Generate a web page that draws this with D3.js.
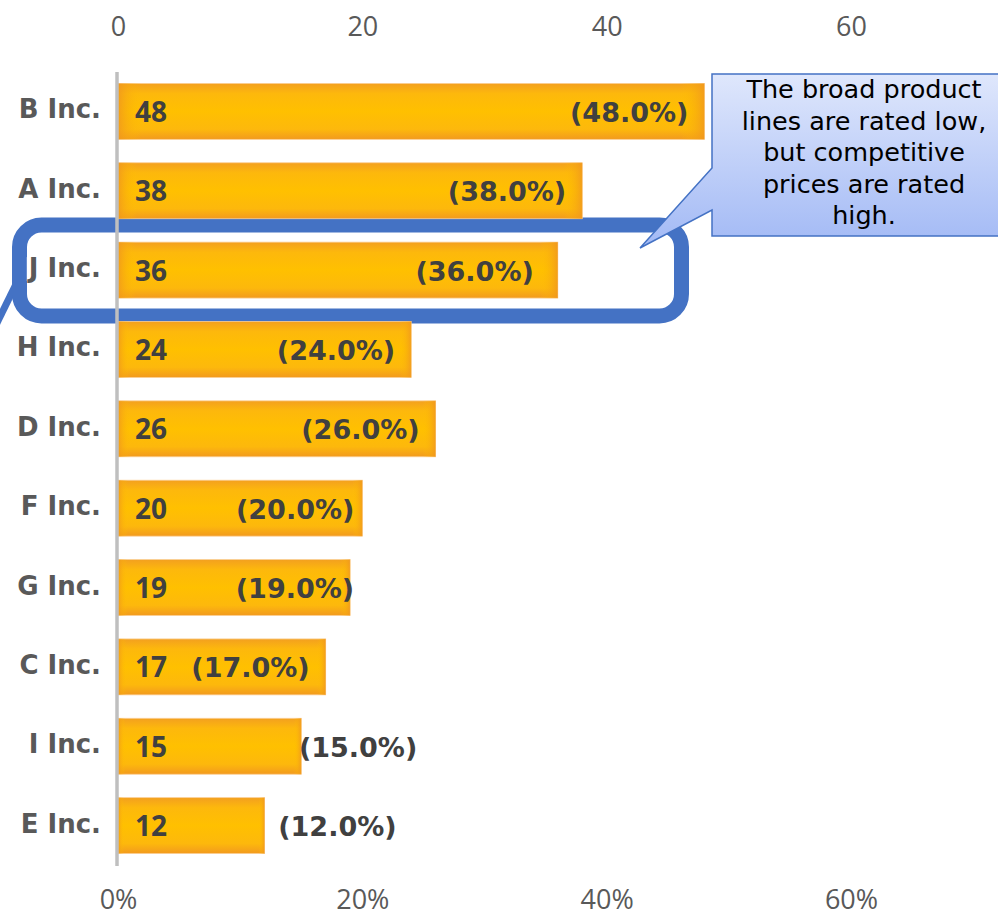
<!DOCTYPE html>
<html><head><meta charset="utf-8">
<script src="https://cdn.jsdelivr.net/npm/d3@7"></script>
<style>html,body{margin:0;padding:0;background:#fff;overflow:hidden}</style>
</head><body>
<svg id="c" width="998" height="917"></svg>
<script>
const categories = ["B Inc.","A Inc.","J Inc.","H Inc.","D Inc.","F Inc.","G Inc.","C Inc.","I Inc.","E Inc."];
const values = [48,38,36,24,26,20,19,17,15,12];
const percents = ["(48.0%)","(38.0%)","(36.0%)","(24.0%)","(26.0%)","(20.0%)","(19.0%)","(17.0%)","(15.0%)","(12.0%)"];
const pctNudge = [0,0,-8,0,0,8,20,0,132,148];
const topTicks = [0,20,40,60];
const bottomTickLabels = ["0%","20%","40%","60%"];
const calloutLines = ["The broad product","lines are rated low,","but competitive","prices are rated","high."];

const svg = d3.select("#c");
const defs = svg.append("defs");
const vg = defs.append("linearGradient").attr("id","barV").attr("x1",0).attr("y1",0).attr("x2",0).attr("y2",1);
[["0%","#f3a01f"],["18%","#fdb80c"],["50%","#ffc000"],["82%","#fdb80c"],["100%","#f29a1e"]].forEach(s=>vg.append("stop").attr("offset",s[0]).attr("stop-color",s[1]));
const hg = defs.append("linearGradient").attr("id","barH").attr("x1",0).attr("y1",0).attr("x2",1).attr("y2",0);
[["0%","#f0961e",0.8],["4%","#ffc000",0],["96%","#ffc000",0],["100%","#f0961e",0.8]].forEach(s=>hg.append("stop").attr("offset",s[0]).attr("stop-color",s[1]).attr("stop-opacity",s[2]));
const cg = defs.append("linearGradient").attr("id","callG").attr("x1",0).attr("y1",0).attr("x2",0).attr("y2",1);
[["0%","#dfe7fc"],["100%","#a2b9f5"]].forEach(s=>cg.append("stop").attr("offset",s[0]).attr("stop-color",s[1]));

const font = "'DejaVu Sans',Verdana,sans-serif";
const tickFont = "'Open Sans','Noto Sans',sans-serif";
const x = d3.scaleLinear().domain([0,60]).range([118,851]);
const y = d3.scaleBand().domain(categories).range([60,877]).paddingInner(0.295).paddingOuter(0.295);

// top axis
const topAxis = d3.axisTop(x).tickValues(topTicks).tickSize(0).tickPadding(0);
const gt = svg.append("g").attr("transform","translate(0,25.5)").call(topAxis);
gt.select(".domain").remove();
gt.selectAll("text").attr("fill","#595959").attr("dy",null).attr("dominant-baseline","central")
  .style("font-family",tickFont).style("font-size","27px");

const botAxis = d3.axisBottom(x).tickValues(topTicks).tickFormat((d,i)=>bottomTickLabels[i]).tickSize(0).tickPadding(0);
const gb = svg.append("g").attr("transform","translate(0,898.5)").call(botAxis);
gb.select(".domain").remove();
gb.selectAll("text").attr("fill","#595959").attr("dy",null).attr("y",0).attr("dominant-baseline","central")
  .style("font-family",tickFont).style("font-size","27px");

// rounded highlight rect (behind labels)
svg.append("path").attr("d","M-8,333 L23,270").attr("stroke","#4472c4").attr("stroke-width",7).attr("fill","none");
svg.append("rect").attr("x",19.5).attr("y",225).attr("width",662).attr("height",91).attr("rx",22)
  .attr("fill","none").attr("stroke","#4472c4").attr("stroke-width",15);

// bars
const bars = svg.append("g");
bars.selectAll("rect.b").data(categories).join("rect").attr("class","b")
  .attr("x",x(0)).attr("y",d=>y(d)).attr("width",(d,i)=>x(values[i])-x(0)).attr("height",y.bandwidth())
  .attr("fill","url(#barV)").attr("stroke","#fbcf94").attr("stroke-width",0.8);
bars.selectAll("rect.h").data(categories).join("rect").attr("class","h")
  .attr("x",x(0)).attr("y",d=>y(d)).attr("width",(d,i)=>x(values[i])-x(0)).attr("height",y.bandwidth())
  .attr("fill","url(#barH)");

// axis line
svg.append("line").attr("x1",117).attr("x2",117).attr("y1",72).attr("y2",866).attr("stroke","#bfbfbf").attr("stroke-width",3.5);

// category labels
const cl = svg.append("g");
categories.forEach((c,i)=>{
  const cy = y(c)+y.bandwidth()/2-2;
  const t = cl.append("text").attr("x",101).attr("y",cy).attr("text-anchor","end").attr("dominant-baseline","central")
    .attr("fill","#595959").style("font-family",font).style("font-weight","bold").style("font-size","26px").text(c);
  if (c==="J Inc.") {
    const bb = t.node().getBBox();
    cl.insert("rect","text").attr("x",bb.x).attr("y",bb.y+4).attr("width",bb.width).attr("height",bb.height-6).attr("fill","#fff");
  }
});

// value labels
svg.append("g").selectAll("text").data(categories).join("text")
  .attr("x",x(0)+17).attr("y",d=>y(d)+y.bandwidth()/2-0.5).attr("dominant-baseline","central")
  .attr("fill","#404040").style("font-family",tickFont).style("font-weight","bold").style("font-size","28px")
  .text((d,i)=>values[i]);

// percent labels
svg.append("g").selectAll("text").data(categories).join("text")
  .attr("x",(d,i)=>x(values[i])-16+pctNudge[i]).attr("y",d=>y(d)+y.bandwidth()/2+1).attr("text-anchor","end").attr("dominant-baseline","central")
  .attr("fill","#404040").style("font-family",font).style("font-weight","bold").style("font-size","27px")
  .text((d,i)=>percents[i]);

// callout
svg.append("path").attr("d","M712,74 H1010 V236 H712 V210 L640,248 L712,168 Z")
  .attr("fill","url(#callG)").attr("stroke","#4472c4").attr("stroke-width",1.5);
svg.append("g").selectAll("text").data(calloutLines).join("text")
  .attr("x",864).attr("y",(d,i)=>89+i*31.5).attr("text-anchor","middle").attr("dominant-baseline","central")
  .attr("fill","#000").style("font-family",font).style("font-size","25.5px").text(d=>d);
</script>
</body></html>
